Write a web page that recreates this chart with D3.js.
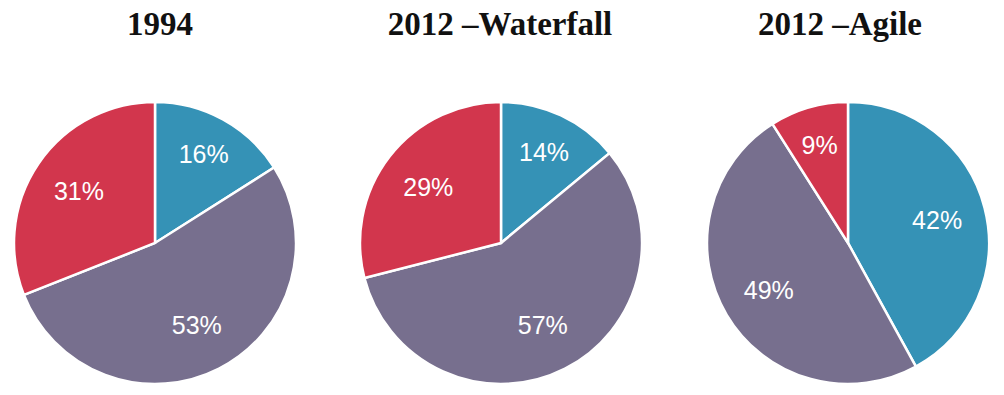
<!DOCTYPE html>
<html>
<head>
<meta charset="utf-8">
<script src="https://cdn.jsdelivr.net/npm/d3@7"></script>
<style>
  body { margin: 0; background: #fff; }
  .title { font-family: "Liberation Serif", serif; font-weight: bold; font-size: 33px; fill: #111; }
  .lbl { font-family: "Liberation Sans", Arial, sans-serif; font-size: 25px; fill: #fff; }
</style>
</head>
<body>
<script>
// chart data
var titles = ["1994", "2012 \u2013Waterfall", "2012 \u2013Agile"];
var categories = ["blue", "purple", "red"];
var pie1994 = [16, 53, 31];
var pieWaterfall = [14, 57, 29];
var pieAgile = [42, 49, 9];
var allPies = [pie1994, pieWaterfall, pieAgile];

var colors = d3.scaleOrdinal()
    .domain(categories)
    .range(["#3592b6", "#776f8e", "#d2364d"]);

var width = 1004, height = 395;
var radius = 141;
var centersX = [155, 501, 848];
var titleX = [160, 500, 840];
var cy = 243;

var svg = d3.select("body").append("svg")
    .attr("width", width)
    .attr("height", height);

var pie = d3.pie().sort(null).value(function (d) { return d.v; });
var arc = d3.arc().innerRadius(0).outerRadius(radius);

allPies.forEach(function (vals, i) {
    var data = vals.map(function (v, j) { return {k: categories[j], v: v}; });

    svg.append("text")
        .attr("class", "title")
        .attr("x", titleX[i])
        .attr("y", 35)
        .attr("text-anchor", "middle")
        .text(titles[i]);

    var g = svg.append("g").attr("transform", "translate(" + centersX[i] + "," + cy + ")");

    var slices = g.selectAll("path").data(pie(data)).enter();
    slices.append("path")
        .attr("d", arc)
        .attr("fill", function (d) { return colors(d.data.k); })
        .attr("stroke", "#fff")
        .attr("stroke-width", 2.5);

    // small slices get labels further out, like the original
    g.selectAll("text").data(pie(data)).enter().append("text")
        .attr("class", "lbl")
        .attr("text-anchor", "middle")
        .attr("dy", "0.36em")
        .attr("transform", function (d) {
            var r = d.data.v < 10 ? 102 : (d.data.v < 20 ? 101 : 92);
            var a = d3.arc().innerRadius(r).outerRadius(r);
            return "translate(" + a.centroid(d) + ")";
        })
        .text(function (d) { return d.data.v + "%"; });
});
</script>
</body>
</html>
